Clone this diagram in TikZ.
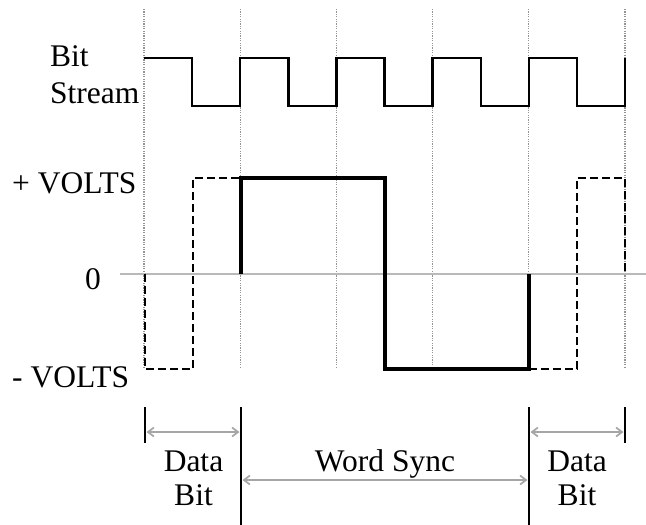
\documentclass[tikz,border=0pt]{standalone}
\usepackage{fontspec}
\setmainfont{Liberation Serif}
\usetikzlibrary{arrows.meta}
\begin{document}
\begin{tikzpicture}[x=1pt,y=-1pt,
  lbl/.style={inner sep=0pt,font=\fontsize{31.5}{35}\selectfont},
  grid/.style={draw=gray!85,line width=1.3pt,dash pattern=on 1.2pt off 1.2pt},
  zeroline/.style={draw=gray!55,line width=1.8pt},
  bitline/.style={draw=black,line width=2.4pt},
  syncline/.style={draw=black,line width=3.6pt},
  dataline/.style={draw=black,line width=2.1pt,dash pattern=on 8pt off 4pt},
  tick/.style={draw=black,line width=2.4pt},
  dim/.style={draw=gray!70,line width=1.7pt,{Straight Barb[length=6pt,width=9pt]}-{Straight Barb[length=6pt,width=9pt]}}]
\useasboundingbox (0,0) rectangle (646,525);
% vertical dotted grid
\foreach \k in {0,2,4,6,8,10}{
  \draw[grid] ({144+48.1*\k},9) -- ({144+48.1*\k},367);
}
% zero line
\coordinate (z0) at (120,274);
\coordinate (z1) at (646,274);
\draw[zeroline] (z0) -- (z1);
% labels
\node[lbl,anchor=base west] (bit) at (50,66.7) {Bit};
\node[lbl,anchor=base west] (stream) at (50,103) {Stream};
\node[lbl,anchor=base west] (pv) at (12,193) {+ VOLTS};
\node[lbl,anchor=base] (zero) at (93,289) {0};
\node[lbl,anchor=base west] (nv) at (12,387) {- VOLTS};
% bit stream
\draw[bitline,line join=miter] (144,58)
  -- (192.1,58) -- (192.1,106) -- (240.2,106) -- (240.2,58)
  -- (288.3,58) -- (288.3,106) -- (336.4,106) -- (336.4,58)
  -- (384.5,58) -- (384.5,106) -- (432.6,106) -- (432.6,58)
  -- (480.7,58) -- (480.7,106) -- (528.8,106) -- (528.8,58)
  -- (576.9,58) -- (576.9,106) -- (625,106) -- (625,58);
% data bits (dashed)
\draw[dataline] (145,274) -- (145,369) -- (192.6,369) -- (192.6,178) -- (240.2,178);
\draw[dataline] (528.8,369) -- (576.9,369) -- (576.9,178) -- (625,178) -- (625,274);
% word sync (thick)
\draw[syncline,line join=miter] (240.7,274) -- (240.7,178) -- (385,178) -- (385,369) -- (529,369) -- (529,274);
% ticks
\coordinate (t1a) at (145,407); \coordinate (t1b) at (145,443);
\coordinate (t2a) at (241,407); \coordinate (t2b) at (241,525);
\coordinate (t3a) at (529,407); \coordinate (t3b) at (529,525);
\coordinate (t4a) at (625,407); \coordinate (t4b) at (625,443);
\draw[tick] (t1a) -- (t1b);
\draw[tick] (t2a) -- (t2b);
\draw[tick] (t3a) -- (t3b);
\draw[tick] (t4a) -- (t4b);
% dimension arrows
\coordinate (d1a) at (146.5,432); \coordinate (d1b) at (239.5,432);
\coordinate (d2a) at (242.5,480); \coordinate (d2b) at (527.5,480);
\coordinate (d3a) at (530.5,432); \coordinate (d3b) at (623.5,432);
\draw[dim] (d1a) -- (d1b);
\draw[dim] (d2a) -- (d2b);
\draw[dim] (d3a) -- (d3b);
% dimension labels
\node[lbl,anchor=base] (data1) at (193.5,471.7) {Data};
\node[lbl,anchor=base] (bit1) at (193.5,505) {Bit};
\node[lbl,anchor=base] (sync) at (385,471.7) {Word Sync};
\node[lbl,anchor=base] (data2) at (577,471.7) {Data};
\node[lbl,anchor=base] (bit2) at (577,505) {Bit};
\end{tikzpicture}
\end{document}
